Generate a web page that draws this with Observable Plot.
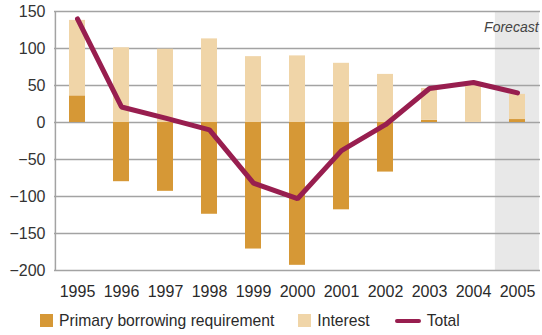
<!DOCTYPE html>
<html>
<head>
<meta charset="utf-8">
<script src="https://cdn.jsdelivr.net/npm/d3@7"></script>
<script src="https://cdn.jsdelivr.net/npm/@observablehq/plot@0.6"></script>
<style>
  html, body { margin: 0; padding: 0; background: #fff; }
  body { width: 542px; height: 335px; overflow: hidden; font-family: "Liberation Sans", Arial, sans-serif; }
  #legend { display: flex; align-items: center; height: 29px; padding-left: 40px; font-size: 15.7px; color: #2a2a2a; }
  .sw { display: inline-block; width: 13px; height: 13px; margin-right: 6px; }
  .ln { display: inline-block; width: 26px; height: 4px; border-radius: 2px; margin-right: 6px; }
  .item { display: flex; align-items: center; }
</style>
</head>
<body>
<div id="chart"></div>
<div id="legend">
  <span class="item" style="margin-right:24px"><span class="sw" style="background:#D69836"></span>Primary borrowing requirement</span>
  <span class="item" style="margin-right:25px"><span class="sw" style="background:#F0D5A8"></span>Interest</span>
  <span class="item"><span class="ln" style="background:#981E4F"></span>Total</span>
</div>
<script>
const years = ["1995","1996","1997","1998","1999","2000","2001","2002","2003","2004","2005"];
const primary = [36, -80, -93, -124, -171, -193, -118, -67, 3, 0, 4];
const interest = [102, 101, 99, 113, 89, 90, 80, 65, 43, 50, 34];
const total = [140, 21, 6, -10, -82, -103, -38, -3, 46, 54, 40];
const yTicks = [150, 100, 50, 0, -50, -100, -150, -200];
const forecastYears = ["2005"];
const seriesNames = ["Primary borrowing requirement", "Interest"];
const colors = ["#D69836", "#F0D5A8"];

const bars = [];
years.forEach((y, i) => {
  bars.push({year: y, series: seriesNames[0], value: primary[i]});
  bars.push({year: y, series: seriesNames[1], value: interest[i]});
});
const lineData = years.map((y, i) => ({year: y, value: total[i]}));

const W = 542, H = 306, ML = 54, MR = 2, MT = 11, MB = 36;
const padIn = 0.64;
const step = (W - ML - MR) / years.length;
const shadeInset = -(step * padIn) / 2;

const chart = Plot.plot({
  width: W, height: H,
  marginLeft: ML, marginRight: MR, marginTop: MT, marginBottom: MB,
  style: {fontFamily: "'Liberation Sans', Arial, sans-serif", background: "#fff"},
  x: {domain: years, paddingInner: padIn, paddingOuter: padIn / 2, align: 0.5, label: null},
  y: {domain: [-200, 150], label: null},
  color: {domain: seriesNames, range: colors},
  marks: [
    Plot.barY(forecastYears, {x: d => d, y1: -200, y2: 150, fill: "#E8E8E8", insetLeft: shadeInset, insetRight: shadeInset}),
    Plot.ruleY(yTicks, {stroke: "#A3A3A3", strokeWidth: 1.5}),
    Plot.ruleX([years[0]], {x: d => d, dx: -step / 2, y1: -200, y2: 150, stroke: "#A3A3A3", strokeWidth: 1.5}),
    Plot.barY(bars, {x: "year", y: "value", fill: "series", order: seriesNames}),
    Plot.line(lineData, {x: "year", y: "value", stroke: "#981E4F", strokeWidth: 5, strokeLinejoin: "miter"}),
    Plot.text(forecastYears, {x: d => d, y: 150, text: () => "Forecast", textAnchor: "end", dx: step / 2 - 1, dy: 16, fontStyle: "italic", fontSize: 14, fill: "#444"}),
    Plot.axisY({ticks: yTicks, tickSize: 0, tickPadding: 9, fontSize: 16, fill: "#333", tickFormat: d => d < 0 ? "\u2212" + Math.abs(d) : String(d)}),
    Plot.axisX({tickSize: 0, tickPadding: 15, fontSize: 16, fill: "#2a2a2a"})
  ]
});
document.getElementById("chart").appendChild(chart);
</script>
</body>
</html>
